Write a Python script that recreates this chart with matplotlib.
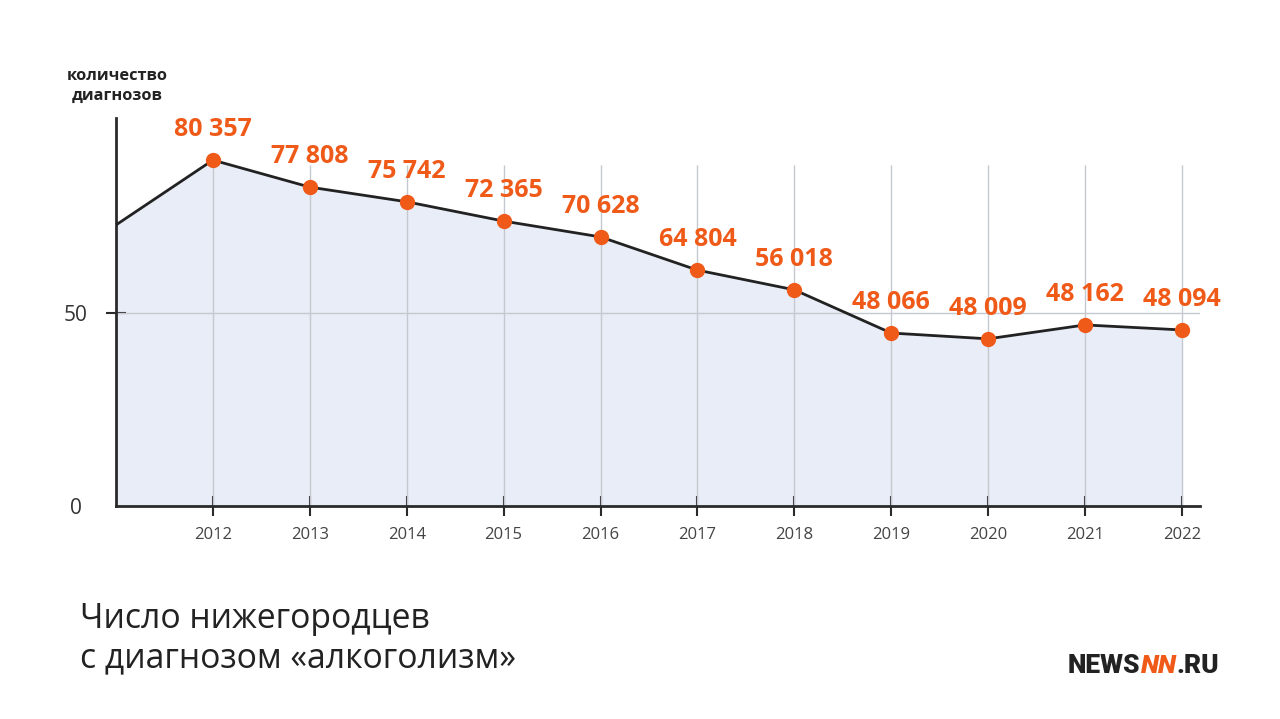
import matplotlib
matplotlib.use("Agg")
import matplotlib.pyplot as plt

# Data (positions in thousands; labels as printed)
years = [2011, 2012, 2013, 2014, 2015, 2016, 2017, 2018, 2019, 2020, 2021, 2022]
values = [72.8, 89.6, 82.6, 78.8, 73.8, 69.7, 61.1, 56.0, 44.8, 43.3, 46.9, 45.6]
label_years = [2012, 2013, 2014, 2015, 2016, 2017, 2018, 2019, 2020, 2021, 2022]
labels = ["80 357", "77 808", "75 742", "72 365", "70 628", "64 804",
          "56 018", "48 066", "48 009", "48 162", "48 094"]
ytick_vals = [0, 50]
ytick_labels = ["0", "50"]

ORANGE = "#F05A19"
FILL = "#E8EDF7"
DARK = "#222222"
FONT = ["Open Sans", "DejaVu Sans"]

plt.rcParams["font.family"] = FONT

fig = plt.figure(figsize=(12.8, 7.19), dpi=100)
ax = fig.add_axes([116/1280, 1-506/719, (1200-116)/1280, (506-118)/719])
ax.set_xlim(2011, 2011 + (1200-116)/96.9)
ax.set_ylim(0, 100.5)

ax.fill_between(years, values, 0, color=FILL, zorder=1, linewidth=0)
# vertical grid lines
ax.vlines(label_years, 0, 88.3, color="#C5C8CE", linewidth=1, zorder=2)
ax.axhline(50, color="#C5C8CE", linewidth=1, zorder=2)
ax.plot(years, values, color=DARK, linewidth=2, zorder=3)
ax.plot(years[1:], values[1:], "o", color=ORANGE, markersize=10, zorder=4)

for x, y, t in zip(label_years, values[1:], labels):
    ax.annotate(t, (x, y), xytext=(0, 22), textcoords="offset points",
                ha="center", va="center", color=ORANGE, fontsize=18,
                fontweight="bold", zorder=5)

for s in ["top", "right"]:
    ax.spines[s].set_visible(False)
for s in ["left", "bottom"]:
    ax.spines[s].set_color("#2a2a2a")
    ax.spines[s].set_linewidth(2)

ax.set_xticks(label_years)
ax.set_xticklabels([str(y) for y in label_years])
ax.set_yticks(ytick_vals)
ax.set_yticklabels(ytick_labels)
ax.tick_params(axis="x", direction="inout", length=14, width=1.5, color="#2a2a2a",
               labelsize=12, labelcolor="#444444", pad=8)
ax.tick_params(axis="y", direction="inout", length=14, width=1.5, color="#2a2a2a",
               labelsize=15, labelcolor="#333333", pad=22)
for lbl in ax.get_yticklabels():
    lbl.set_horizontalalignment("center")
ax.yaxis.get_major_ticks()[0].tick1line.set_visible(False)

fig.text(117/1280, 1-86/719, "количество\nдиагнозов", ha="center", va="center",
         fontsize=11.8, fontweight="bold", color="#222222", linespacing=1.35)

fig.text(80/1280, 1-639/719, "Число нижегородцев\nс диагнозом «алкоголизм»",
         ha="left", va="center", fontsize=24.3, color="#222222", linespacing=1.2)

# logo
t1 = fig.text(1068/1280, 1-666/719, "NEWS", ha="left", va="center",
              fontsize=19, fontweight="heavy", color="#222222", family=["Roboto", "DejaVu Sans"])
fig.canvas.draw()
bb = t1.get_window_extent()
t2 = fig.text(bb.x1/1280, 1-666/719, "NN", ha="left", va="center", fontstyle="italic",
              fontsize=19, fontweight="heavy", color=ORANGE, family=["Roboto", "DejaVu Sans"])
fig.canvas.draw()
bb2 = t2.get_window_extent()
fig.text(bb2.x1/1280, 1-666/719, ".RU", ha="left", va="center",
         fontsize=19, fontweight="heavy", color="#222222", family=["Roboto", "DejaVu Sans"])

fig.savefig("out.png", dpi=100, facecolor="white")
